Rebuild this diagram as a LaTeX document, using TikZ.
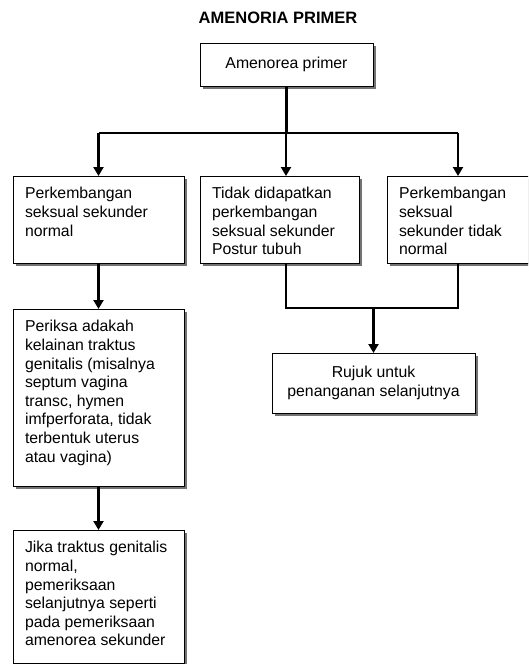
\documentclass[tikz,border=0pt]{standalone}
\usepackage{fontspec}
\setmainfont{Liberation Sans}
\usetikzlibrary{arrows.meta,shadows,calc}
\tikzset{
  boxbase/.style={draw=black, line width=0.8pt, fill=white, outer sep=0pt,
    drop shadow={shadow xshift=3pt, shadow yshift=-3pt, fill=black!55, opacity=1},
    font=\fontsize{15.8}{18.6}\selectfont},
  lbox/.style={boxbase, anchor=north west, inner xsep=12pt, inner ysep=11.5pt},
  cbox/.style={boxbase, align=center, inner sep=0pt},
  conn/.style={line width=2.2pt},
  arr/.style={line width=2.2pt, -{Triangle[length=9pt,width=10pt]}}
}
\newcommand{\boxtext}[3]{\parbox[t][#2][t]{#1}{\raggedright #3}}
\begin{document}
\begin{tikzpicture}[x=1pt,y=-1pt]
\clip (0,0) rectangle (528,664);
\fill[white] (0,0) rectangle (528,664);

\node[font=\bfseries\fontsize{16.5}{19}\selectfont] (title) at (278,18) {AMENORIA PRIMER};

\node[cbox, minimum width=173pt, minimum height=43pt] (top) at (286.5,64.5) {Amenorea primer};

\node[lbox] (L1) at (13,176) {\boxtext{147pt}{64pt}{Perkembangan\\seksual sekunder\\normal}};
\node[lbox] (M1) at (200,176) {\boxtext{135pt}{64pt}{Tidak didapatkan\\perkembangan\\seksual sekunder\\Postur tubuh}};
\node[lbox] (R1) at (387,176) {\boxtext{124pt}{64pt}{Perkembangan\\seksual\\sekunder tidak\\normal}};

\node[lbox] (L2) at (13,309) {\boxtext{147pt}{154pt}{Periksa adakah\\kelainan traktus\\genitalis (misalnya\\septum vagina\\transc, hymen\\imfperforata, tidak\\terbentuk uterus\\atau vagina)}};
\node[lbox] (L3) at (13,530) {\boxtext{147pt}{110pt}{Jika traktus genitalis\\normal,\\pemeriksaan\\selanjutnya seperti\\pada pemeriksaan\\amenorea sekunder}};

\node[cbox, minimum width=203pt, minimum height=60pt] (rujuk) at (373.5,383) {Rujuk untuk\\penanganan selanjutnya};

\coordinate (bar) at (286,133);
\coordinate (barL) at (98.5,133);
\coordinate (barR) at (458,133);
\coordinate (j1) at (286,308);
\coordinate (j2) at (458,308);

\draw[conn] (top.south) -- (top.south |- bar);
\draw[conn] (barL) -- (barR);
\draw[arr] (barL) -- (barL |- L1.north);
\draw[arr] (bar) -- (bar |- M1.north);
\draw[arr] (barR) -- (barR |- R1.north);

\draw[arr] (L1.south) -- (L2.north);
\draw[arr] (L2.south) -- (L3.north);

\draw[conn] (j1 |- M1.south) -- (j1) -- (j2) -- (j2 |- R1.south);
\draw[arr] (rujuk.north |- j1) -- (rujuk.north);
\end{tikzpicture}
\end{document}
